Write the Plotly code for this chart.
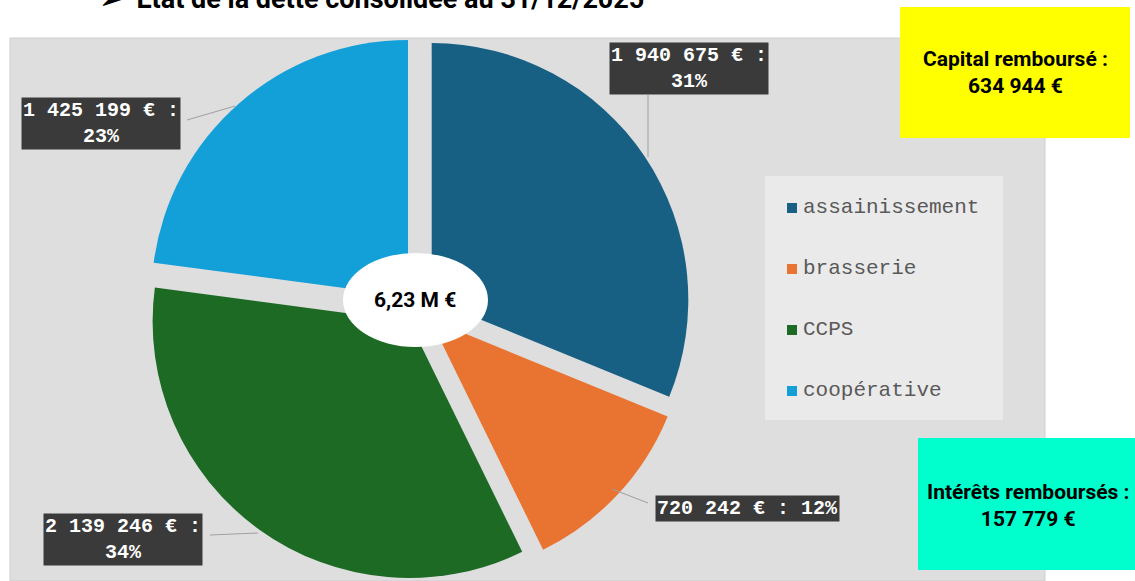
import plotly.graph_objects as go

W, H = 1135, 581

# data
labels = ["assainissement", "brasserie", "CCPS", "coopérative"]
values = [1940675, 720242, 2139246, 1425199]
colors = ["#175F83", "#E97432", "#1C6A24", "#139FD8"]
capital_rembourse = 634944
interets_rembourses = 157779
title = "➢  État de la dette consolidée au 31/12/2025"

total = sum(values)


def fmt(v):
    return f"{v:,}".replace(",", " ")


def px(x):
    return x / W


def py(y):
    return 1 - y / H


def note(x, y, text, font, **kw):
    d = dict(xref="paper", yref="paper", x=px(x), y=py(y), text=text, showarrow=False,
             xanchor="center", yanchor="middle", font=font)
    d.update(kw)
    return d


bold_font = "Liberation Sans Narrow, Roboto"

fig = go.Figure()

fig.add_trace(go.Pie(
    labels=labels, values=values, sort=False, direction="clockwise", rotation=0,
    marker=dict(colors=colors, line=dict(width=0)),
    pull=[0.062] * len(values), textinfo="none", hoverinfo="label+value+percent",
    domain=dict(x=[px(146), px(691)], y=[0, py(36)]),
    showlegend=False,
))

shapes = []
annotations = []

# grey chart area behind the pie
shapes.append(dict(type="rect", xref="paper", yref="paper", layer="below",
                   x0=px(10), x1=px(1045), y0=0, y1=py(38),
                   fillcolor="#dedede", line=dict(color="#cfcfcf", width=1)))

# centre ellipse with the total
shapes.append(dict(type="circle", xref="paper", yref="paper",
                   x0=px(343), x1=px(488), y0=py(347), y1=py(253),
                   fillcolor="white", line=dict(width=0)))
annotations.append(note(415, 300, f"<b>{total / 1e6:.2f}".replace(".", ",") + " M €</b>",
                        dict(family=bold_font, size=21, color="black")))

# slice labels with leader lines
label_pos = [(689, 69), (747, 508), (123, 539), (101, 124)]
leaders = [[(648, 95), (648, 157)], [(648, 503), (612, 489)],
           [(210, 535), (258, 533)], [(187, 120), (235, 106)]]
for i, v in enumerate(values):
    pct = round(v / total * 100)
    sep = " " if i == 1 else "<br>"
    (a, b), (c, d) = leaders[i]
    shapes.append(dict(type="line", xref="paper", yref="paper",
                       x0=px(a), y0=py(b), x1=px(c), y1=py(d),
                       line=dict(color="#a0a0a0", width=1)))
    annotations.append(note(label_pos[i][0], label_pos[i][1], f"<b>{fmt(v)} € :{sep}{pct}%</b>",
                            dict(family="Liberation Mono", size=20, color="white"),
                            bgcolor="#3a3a3a", borderpad=1))

# manual legend
shapes.append(dict(type="rect", xref="paper", yref="paper",
                   x0=px(765), x1=px(1003), y0=py(420), y1=py(176),
                   fillcolor="#eaeaea", line=dict(width=0)))
for i, lab in enumerate(labels):
    yc = 207 + i * 61
    shapes.append(dict(type="rect", xref="paper", yref="paper",
                       x0=px(787), x1=px(797), y0=py(yc + 6), y1=py(yc - 4),
                       fillcolor=colors[i], line=dict(width=0)))
    annotations.append(note(801, yc, lab, dict(family="Liberation Mono", size=21, color="#595959"),
                            xanchor="left"))

# side boxes
shapes.append(dict(type="rect", xref="paper", yref="paper",
                   x0=px(900), x1=px(1130), y0=py(138), y1=py(7),
                   fillcolor="#FFFF00", line=dict(width=0)))
shapes.append(dict(type="rect", xref="paper", yref="paper",
                   x0=px(918), x1=px(1135), y0=py(570), y1=py(438),
                   fillcolor="#00FFCC", line=dict(width=0)))
annotations.append(note(1015, 73, f"<b>Capital remboursé :<br>{fmt(capital_rembourse)} €</b>",
                        dict(family=bold_font, size=21, color="black")))
annotations.append(note(1028, 505, f"<b>Intérêts remboursés :<br>{fmt(interets_rembourses)} €</b>",
                        dict(family=bold_font, size=21, color="black")))

# title, cut at the top edge as in the source slide
annotations.append(dict(xref="paper", yref="paper", x=px(372), y=1, xanchor="center",
                        yanchor="bottom", yshift=-17, text=f"<b>{title}</b>", showarrow=False,
                        font=dict(family=bold_font, size=27, color="black")))

fig.update_layout(width=W, height=H, margin=dict(l=0, r=0, t=0, b=0),
                  paper_bgcolor="white", plot_bgcolor="white",
                  shapes=shapes, annotations=annotations)

fig.write_html("out.html", config={"displayModeBar": False},
               post_script="document.body.style.margin='0';")
